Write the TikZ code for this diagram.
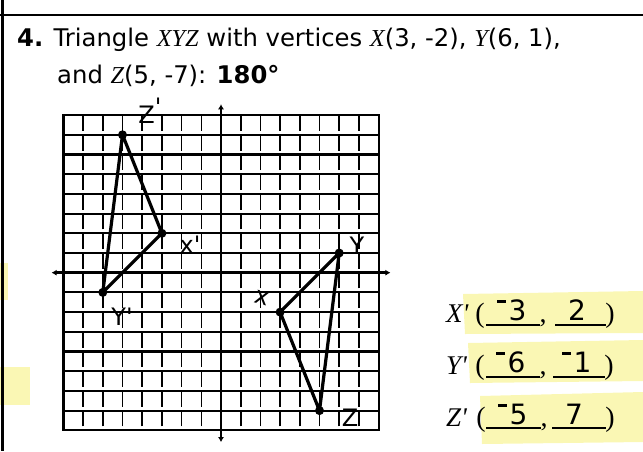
\documentclass[tikz,border=0pt]{standalone}
\usepackage{fontspec}
\setmainfont{DejaVu Sans}
\newfontfamily\serifit{Liberation Serif}
\newfontfamily\handf{DejaVu Sans}
\usetikzlibrary{arrows.meta}
\definecolor{hl}{RGB}{250,247,180}
\newcommand\hneg{\rule[0.62em]{0.32em}{0.09em}\kern0.08em}
\tikzset{
  head/.style={anchor=base west, inner sep=0pt, font=\fontsize{24.3}{24}\selectfont},
  gridh/.style={line width=2.1pt},
  gridv/.style={line width=1.6pt, dash pattern=on 16.2pt off 3.5pt, dash phase=-4pt},
  border/.style={line width=2.2pt},
  axis/.style={line width=2.8pt, {Latex[length=5pt,width=6pt]}-{Latex[length=5pt,width=6pt]}},
  tri/.style={line width=3.2pt, line join=round},
  vdot/.style={circle, fill, inner sep=0pt, minimum size=9pt},
  hlabel/.style={inner sep=0pt, font=\handf\fontsize{24}{24}\selectfont},
  ansl/.style={anchor=base west, inner sep=0pt, font=\serifit\itshape\fontsize{27}{27}\selectfont},
  paren/.style={anchor=base, inner sep=0pt, font=\serifit\fontsize{28}{28}\selectfont},
  num/.style={anchor=base, inner sep=0pt, font=\handf\fontsize{28}{28}\selectfont},
  uline/.style={line width=1.5pt},
  frame/.style={line width=2.8pt}
}
\begin{document}
\begin{tikzpicture}[x=1pt,y=-1pt]
\useasboundingbox (0,0) rectangle (643,451);
% highlights
\fill[hl] (463,294) -- (643,291) -- (643,333) -- (465,334) -- cycle;
\fill[hl] (468,343) -- (643,340) -- (643,381) -- (470,383) -- cycle;
\fill[hl] (480,396) -- (643,392) -- (643,442) -- (482,444) -- cycle;
\fill[hl] (0,263) rectangle (8,300);
\fill[hl] (0,367) rectangle (30,405);
% frame
\draw[frame] (0,15) -- (643,15);
\draw[frame] (2.5,0) -- (2.5,451);
% header
\node[head] (l1) at (17,46) {\textbf{4.} Triangle {\serifit\itshape XYZ} with vertices {\serifit\itshape X}(3, -2), {\serifit\itshape Y}(6, 1),};
\node[head] (l2) at (57,83) {and {\serifit\itshape Z}(5, -7): \textbf{180°}};
% grid
\begin{scope}[shift={(221,272.7)}, x=19.7pt, y=19.7pt]
  \foreach \k in {-7,...,7} {
    \draw[gridh] (-8,\k) -- (8,\k);
    \draw[gridv] (\k,-8) -- (\k,8);
  }
  \draw[border] (-8,-8) rectangle (8,8);
  \coordinate (xl) at (-8.6,0);
  \coordinate (xr) at (8.6,0);
  \coordinate (yt) at (0,8.55);
  \coordinate (yb) at (0,-8.6);
  \draw[axis] (xl) -- (xr);
  \draw[axis] (yb) -- (yt);
  % original triangle
  \node[vdot] (X) at (3,-2) {};
  \node[vdot] (Y) at (6,1) {};
  \node[vdot] (Z) at (5,-7) {};
  \draw[tri] (X.center) -- (Y.center) -- (Z.center) -- cycle;
  % image
  \node[vdot] (Xp) at (-3,2) {};
  \node[vdot] (Yp) at (-6,-1) {};
  \node[vdot] (Zp) at (-5,7) {};
  \draw[tri] (Xp.center) -- (Yp.center) -- (Zp.center) -- cycle;
\end{scope}
% handwritten labels
\node[hlabel] (lZp) at (150,111) {Z\raisebox{0.35em}{'}};
\node[hlabel] (lXp) at (190,245) {x'};
\node[hlabel] (lYp) at (122,317) {Y'};
\node[hlabel, rotate=-15] (lX) at (262,298) {x};
\node[hlabel] (lY) at (357,246) {Y};
\node[hlabel] (lZ) at (350,418) {Z};
% answers
\node[ansl] (a1) at (446,322) {X'};
\node[paren] (p1) at (480,322) {(};
\node[num] (n1a) at (512,320) {\hneg3};
\node[paren] (c1) at (543,322) {,};
\node[num] (n1b) at (577,320) {2};
\node[paren] (q1) at (610,322) {)};
\draw[uline] (486,325) -- (540,325);
\draw[uline] (555,325) -- (606,325);

\node[ansl] (a2) at (446,374) {Y'};
\node[paren] (p2) at (480,374) {(};
\node[num] (n2a) at (511,372) {\hneg6};
\node[paren] (c2) at (543,374) {,};
\node[num] (n2b) at (577,372) {\hneg1};
\node[paren] (q2) at (609,374) {)};
\draw[uline] (486,377) -- (540,377);
\draw[uline] (553,377) -- (605,377);

\node[ansl] (a3) at (446,426) {Z'};
\node[paren] (p3) at (481,426) {(};
\node[num] (n3a) at (513,424) {\hneg5};
\node[paren] (c3) at (544,426) {,};
\node[num] (n3b) at (574,424) {7};
\node[paren] (q3) at (610,426) {)};
\draw[uline] (486,428) -- (541,428);
\draw[uline] (552,428) -- (606,428);
\end{tikzpicture}
\end{document}
